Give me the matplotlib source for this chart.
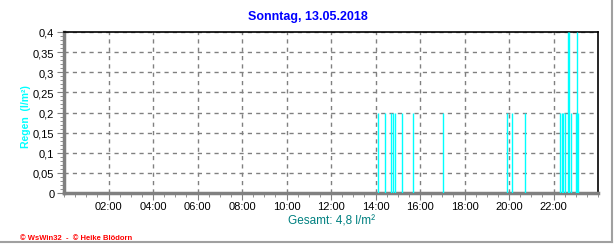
import matplotlib
matplotlib.use("Agg")
import matplotlib.pyplot as plt
from matplotlib.ticker import MultipleLocator, FuncFormatter
from matplotlib.lines import Line2D

plt.rcParams['font.family'] = ['Liberation Sans', 'DejaVu Sans']

title = "Sonntag, 13.05.2018"
ylabel = "Regen  (l/m²)"
total_text = "Gesamt: 4,8 l/m²"
footer = "© WsWin32  -  © Heike Blödorn"

# rain events: time (hours) and amount (l/m²)
hours = [14.13, 14.44, 14.71, 14.80, 14.87, 15.20, 15.70, 17.05,
         19.90, 20.15, 20.73,
         22.31, 22.37, 22.44, 22.50, 22.64, 22.70, 22.80, 23.01, 23.07, 23.11]
rain = [0.2, 0.2, 0.2, 0.2, 0.2, 0.2, 0.2, 0.2,
        0.2, 0.2, 0.2,
        0.2, 0.2, 0.2, 0.2, 0.4, 0.4, 0.2, 0.2, 0.4, 0.2]
xtick_hours = [2, 4, 6, 8, 10, 12, 14, 16, 18, 20, 22]
xtick_labels = ["02:00", "04:00", "06:00", "08:00", "10:00", "12:00",
                "14:00", "16:00", "18:00", "20:00", "22:00"]

W, H = 616, 253
fig = plt.figure(figsize=(W / 100, H / 100), dpi=100)
fig.patch.set_facecolor("white")
ax = fig.add_axes([64 / W, 1 - 194 / H, (598 - 64) / W, (194 - 33) / H])

ax.vlines(hours, 0, rain, colors="#00FFFF", linewidth=1.0, zorder=3)

ax.set_xlim(0, 24)
ax.set_ylim(0, 0.4)
ax.set_xticks(xtick_hours)
ax.set_xticklabels(xtick_labels)
ax.xaxis.set_minor_locator(MultipleLocator(0.5))
ax.yaxis.set_major_locator(MultipleLocator(0.05))
ax.yaxis.set_minor_locator(MultipleLocator(0.01))
ax.yaxis.set_major_formatter(FuncFormatter(
    lambda v, p: ("%g" % round(v, 2)).replace(".", ",")))

ax.grid(True, which="major", color="#808080", linestyle=(0, (3, 3)), linewidth=1)
ax.set_axisbelow(True)

for s in ["left", "bottom"]:
    ax.spines[s].set_color("#808080")
    ax.spines[s].set_linewidth(2.5)
for s in ["top", "right"]:
    ax.spines[s].set_color("black")
    ax.spines[s].set_linewidth(1.2)

ax.tick_params(axis="both", which="major", direction="out", length=5,
               color="#808080", labelsize=8, pad=2)
ax.tick_params(axis="both", which="minor", direction="out", length=3,
               color="#808080")
ax.tick_params(axis="x", which="major", pad=1)

fig.text(308 / W, 1 - 17 / H, title, color="#0000FF", fontsize=9,
         fontweight="bold", ha="center", va="center")
fig.text(26 / W, 1 - 117 / H, ylabel, color="#00FFFF", fontsize=7.5,
         fontweight="bold", rotation=90, ha="center", va="center")
fig.text(331 / W, 1 - 222 / H, total_text, color="#008080", fontsize=8.5,
         ha="center", va="center")
fig.text(20 / W, 1 - 238.5 / H, footer, color="#FF0000", fontsize=5.5,
         fontweight="bold", ha="left", va="center")

# window frame lines
fig.add_artist(Line2D([0, 612 / W], [1 - 243 / H, 1 - 243 / H],
                      transform=fig.transFigure, color="#A0A0A0", linewidth=1.5))
fig.add_artist(Line2D([612 / W, 612 / W], [1 - 243 / H, 1],
                      transform=fig.transFigure, color="#A0A0A0", linewidth=1.5))

fig.savefig("out.png", dpi=100)
